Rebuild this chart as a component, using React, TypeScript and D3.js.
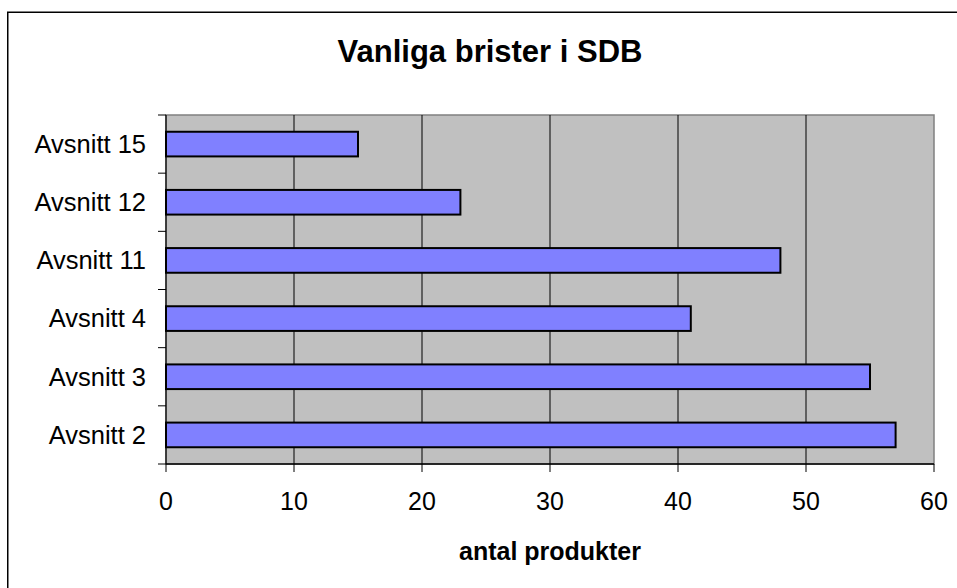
import React from "react";
import * as d3 from "d3";

const categories = ["Avsnitt 2", "Avsnitt 3", "Avsnitt 4", "Avsnitt 11", "Avsnitt 12", "Avsnitt 15"];
const values = [57, 55, 41, 48, 23, 15];
const xTicks = [0, 10, 20, 30, 40, 50, 60];
const title = "Vanliga brister i SDB";
const xTitle = "antal produkter";

const W = 957;
const H = 588;
const plot = { left: 166, top: 115, right: 934, bottom: 464 };
const font = "'Liberation Sans', Arial, sans-serif";

export default function App() {
  const x = d3.scaleLinear().domain([0, 60]).range([plot.left, plot.right]);
  const y = d3
    .scaleBand<string>()
    .domain([...categories].reverse())
    .range([plot.top, plot.bottom])
    .padding(0);
  const slot = y.bandwidth();
  const barH = slot * 0.424;
  const boundaries = d3.range(categories.length + 1).map((i) => plot.top + i * slot);

  return (
    <svg
      width={W}
      height={H}
      style={{ position: "absolute", left: 0, top: 0, background: "#fff" }}
      fontFamily={font}
    >
      <rect x={0} y={0} width={W} height={H} fill="#fff" />
      {/* outer chart border */}
      <rect x={7.75} y={12.25} width={W + 10} height={H + 10} fill="none" stroke="#000" strokeWidth={1.5} />
      <text x={490} y={62} textAnchor="middle" fontSize={31} fontWeight="bold" fill="#000">
        {title}
      </text>
      {/* plot area */}
      <rect
        x={plot.left}
        y={plot.top}
        width={plot.right - plot.left}
        height={plot.bottom - plot.top}
        fill="#C0C0C0"
        stroke="#808080"
        strokeWidth={1.5}
      />
      {xTicks
        .filter((t) => t > 0 && t < 60)
        .map((t) => (
          <line key={"g" + t} x1={x(t)} x2={x(t)} y1={plot.top} y2={plot.bottom} stroke="#000" strokeWidth={1} />
        ))}
      {categories.map((c, i) => {
        const yc = (y(c) as number) + slot / 2;
        return (
          <rect
            key={c}
            x={x(0)}
            y={yc - barH / 2}
            width={x(values[i]) - x(0)}
            height={barH}
            fill="#8080FF"
            stroke="#000"
            strokeWidth={2}
          />
        );
      })}
      {/* y axis */}
      <line x1={plot.left} x2={plot.left} y1={plot.top} y2={plot.bottom} stroke="#000" strokeWidth={1.2} />
      {boundaries.map((b, i) => (
        <line key={"yt" + i} x1={plot.left - 8} x2={plot.left} y1={b} y2={b} stroke="#000" strokeWidth={1} />
      ))}
      {categories.map((c) => {
        const yc = (y(c) as number) + slot / 2;
        return (
          <text key={"l" + c} x={146} y={yc + 8.8} textAnchor="end" fontSize={25.5} fill="#000">
            {c}
          </text>
        );
      })}
      {/* x axis */}
      <line x1={plot.left} x2={plot.right} y1={plot.bottom} y2={plot.bottom} stroke="#000" strokeWidth={1.3} />
      {xTicks.map((t) => (
        <g key={"xt" + t}>
          <line x1={x(t)} x2={x(t)} y1={plot.bottom} y2={plot.bottom + 8} stroke="#000" strokeWidth={1} />
          <text x={x(t)} y={510} textAnchor="middle" fontSize={25} fill="#000">
            {t}
          </text>
        </g>
      ))}
      <text x={550} y={560} textAnchor="middle" fontSize={25} fontWeight="bold" fill="#000">
        {xTitle}
      </text>
    </svg>
  );
}
